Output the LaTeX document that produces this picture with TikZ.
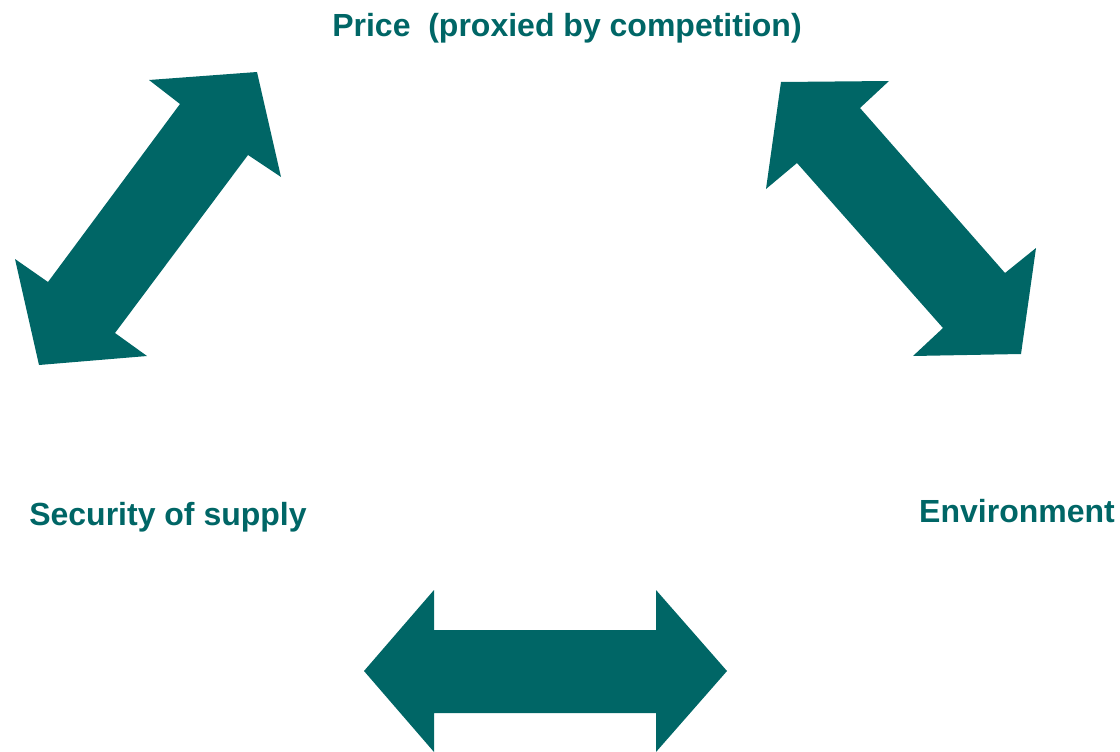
\documentclass[tikz,border=0pt]{standalone}
\usepackage{fontspec}
\setmainfont{Liberation Sans}
\definecolor{teal}{RGB}{0,102,102}
\begin{document}
\begin{tikzpicture}[x=1pt,y=-1pt,
  lbl/.style={text=teal,font=\fontsize{32}{38}\selectfont\bfseries,inner sep=0pt,anchor=base},
  blockarrow/.style={fill=teal,draw=none}]
\useasboundingbox (0,0) rectangle (1120,752);
\clip (0,0) rectangle (1120,752);
% text labels
\node[lbl] (price) at (567,37) {Price\ \ (proxied by competition)};
\node[lbl] (security) at (168,525) {Security of supply};
\node[lbl] (env) at (1017,522) {Environment};
% upper-left double arrow
\fill[blockarrow] (257,72) -- (281,177) -- (248,155) -- (115,333) -- (147,356)
  -- (39,365) -- (15,259) -- (48,282) -- (180,104) -- (149,80) -- cycle;
% upper-right double arrow
\fill[blockarrow] (781,82) -- (889,81) -- (860,108) -- (1005,273) -- (1036,248)
  -- (1021,354) -- (913,356) -- (943,328) -- (797,163) -- (766,189) -- cycle;
% bottom double arrow
\fill[blockarrow] (364,671) -- (434,590) -- (434,630) -- (656,630) -- (656,590)
  -- (727,671) -- (656,752) -- (656,713) -- (434,713) -- (434,752) -- cycle;
\end{tikzpicture}
\end{document}
